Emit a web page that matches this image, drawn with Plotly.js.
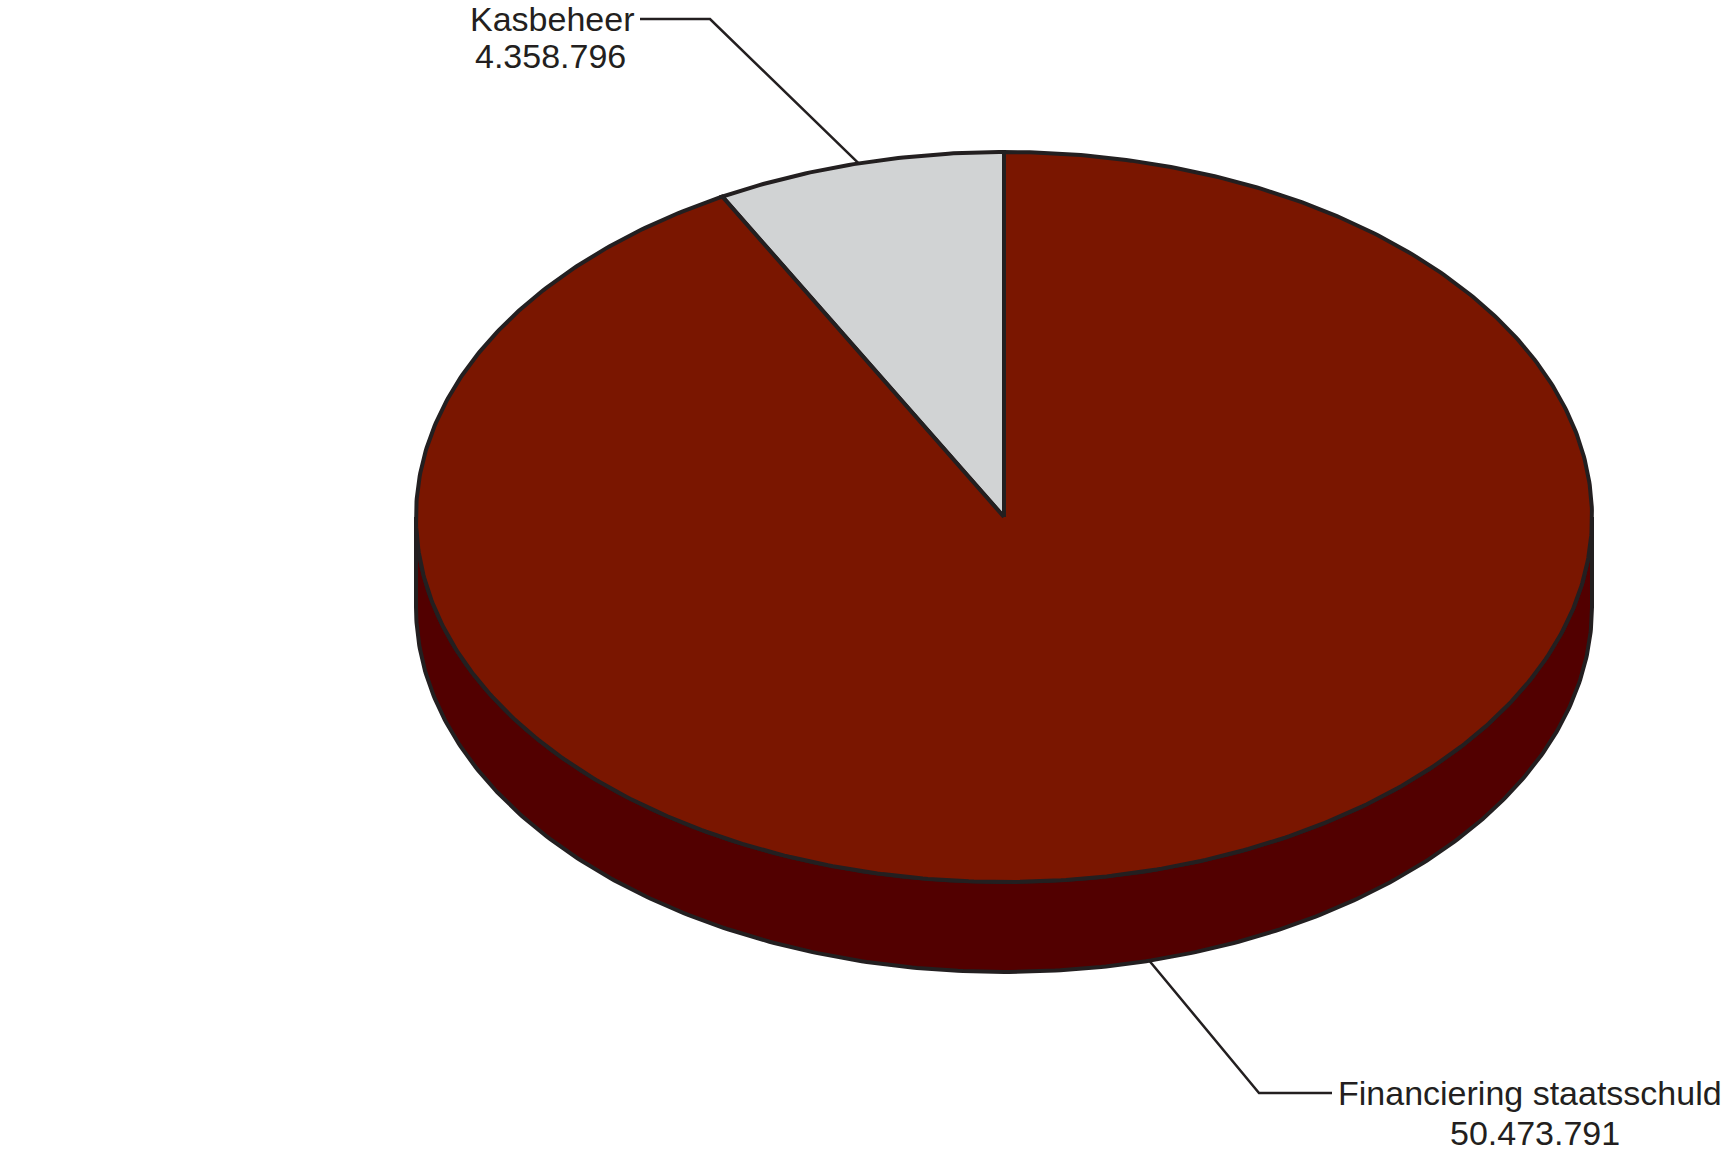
<!DOCTYPE html>
<html>
<head>
<meta charset="utf-8">
<script src="https://cdn.plot.ly/plotly-3.0.1.min.js"></script>
<style>html,body{margin:0;padding:0;background:#fff}</style>
</head>
<body>
<div id="chart" style="width:1735px;height:1153px"></div>
<script>
const labels = ['Kasbeheer', 'Financiering staatsschuld'];
const values = [4358796, 50473791];

// ellipse geometry, page pixels (axes are set up 1:1 with the page)
const cx = 1004, cy = 517, rx = 588, ry = 365, depth = 90;
const topColors = ['#d1d3d4', '#7a1600'];
const sideColors = ['#a7a9ac', '#520000'];
const edge = '#231f20';

// label layout: elbow, end of leader, text spots
const labelPos = [
  { onSide: false, elbow: [710, 19], end: [640, 19], line1: [636, 19, 'right'], line2: [550, 56] },
  { onSide: true, elbow: [1259, 1093], end: [1332, 1093], line1: [1336, 1093, 'left'], line2: [1535, 1133] }
];

function pt(deg, dy) {
  const r = deg * Math.PI / 180;
  return [cx + rx * Math.cos(r), cy - ry * Math.sin(r) + (dy || 0)];
}
function arc(a0, a1, dy) {
  const xs = [], ys = [];
  const n = Math.max(2, Math.ceil(Math.abs(a1 - a0) / 0.5));
  for (let i = 0; i <= n; i++) {
    const p = pt(a0 + (a1 - a0) * i / n, dy);
    xs.push(p[0]); ys.push(p[1]);
  }
  return [xs, ys];
}
function fmt(v) {
  return String(v).replace(/\B(?=(\d{3})+(?!\d))/g, '.');
}

const total = values.reduce((a, b) => a + b, 0);
let angles = [];
let a = 90;
for (let v of values) {
  let b = a + 360 * v / total;
  angles.push([a, b]);
  a = b;
}

let sides = [], tops = [], leaders = [], annotations = [];

angles.forEach(([a0, a1], i) => {
  // front wall, only where the slice faces the viewer (180..360 deg)
  for (let k of [0, 360]) {
    let lo = Math.max(a0, 180 + k), hi = Math.min(a1, 360 + k);
    if (hi > lo) {
      let [x1, y1] = arc(lo, hi, 0);
      let [x2, y2] = arc(hi, lo, depth);
      sides.push({
        x: x1.concat(x2, [x1[0]]), y: y1.concat(y2, [y1[0]]),
        type: 'scatter', mode: 'lines', fill: 'toself',
        fillcolor: sideColors[i], line: { color: edge, width: 4 },
        hoverinfo: 'skip', showlegend: false
      });
    }
  }
  // top face
  let [xs, ys] = arc(a0, a1, 0);
  tops.push({
    x: [cx].concat(xs, [cx]), y: [cy].concat(ys, [cy]),
    type: 'scatter', mode: 'lines', fill: 'toself',
    fillcolor: topColors[i], line: { color: edge, width: 4 },
    hoverinfo: 'skip', showlegend: false
  });
  // leader line from the middle of the slice
  let lp = labelPos[i];
  let start = pt((a0 + a1) / 2, lp.onSide ? depth : 0);
  leaders.push({
    x: [start[0], lp.elbow[0], lp.end[0]], y: [start[1], lp.elbow[1], lp.end[1]],
    type: 'scatter', mode: 'lines', line: { color: edge, width: 2.5 },
    hoverinfo: 'skip', showlegend: false
  });
  let font = { family: 'Liberation Sans, Arial, sans-serif', size: 34, color: edge };
  annotations.push({
    x: lp.line1[0], y: lp.line1[1], text: labels[i], showarrow: false,
    xanchor: lp.line1[2], yanchor: 'middle', font: font
  });
  annotations.push({
    x: lp.line2[0], y: lp.line2[1], text: fmt(values[i]), showarrow: false,
    xanchor: 'center', yanchor: 'middle', font: font
  });
});

let layout = {
  width: 1735, height: 1153,
  margin: { l: 0, r: 0, t: 0, b: 0 },
  paper_bgcolor: '#ffffff', plot_bgcolor: '#ffffff',
  xaxis: { range: [0, 1735], visible: false, fixedrange: true },
  yaxis: { range: [1153, 0], visible: false, fixedrange: true },
  annotations: annotations,
  showlegend: false
};

Plotly.newPlot('chart', sides.concat(tops, leaders), layout, { staticPlot: true });
</script>
</body>
</html>
